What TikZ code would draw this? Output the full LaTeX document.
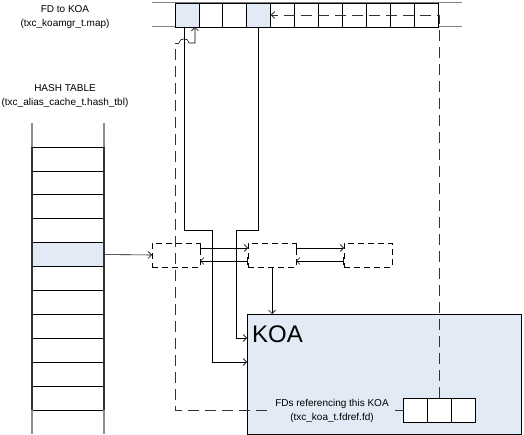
\documentclass[tikz,border=0pt]{standalone}
\usepackage{fontspec}
\setmainfont{Liberation Sans}
\usetikzlibrary{arrows.meta,calc}
\definecolor{hl}{RGB}{226,234,246}
\begin{document}
\begin{tikzpicture}[x=1pt,y=-1pt,
  cell/.style={draw=black,line width=0.7pt,minimum width=23.9pt,minimum height=24pt,inner sep=0pt,outer sep=0pt},
  hrow/.style={draw=black,line width=0.7pt,minimum width=72pt,minimum height=23.9pt,inner sep=0pt,outer sep=0pt},
  dbox/.style={draw=black,dash pattern=on 6pt off 4pt,line width=0.7pt,minimum width=48pt,minimum height=24pt,inner sep=0pt,outer sep=0pt},
  link/.style={draw=black,line width=0.6pt},
  arr/.style={-{Straight Barb[length=3.5pt,width=7pt]}},
  barr/.style={{Bar[width=8pt]}-{Straight Barb[length=3.5pt,width=7pt]}},
  ldash/.style={draw=black!80,line width=0.9pt,dash pattern=on 11pt off 6pt},
  lbl/.style={font=\fontsize{10}{14}\selectfont,align=center,inner sep=0pt},
]
\useasboundingbox (0,0) rectangle (524,435);

% titles
\node[lbl] (t1) at (65,17) {FD to KOA\\(txc\_koamgr\_t.map)};
\node[lbl] (t2) at (65,96) {HASH TABLE\\(txc\_alias\_cache\_t.hash\_tbl)};

% KOA box
\node[draw=black,fill=hl,line width=0.7pt,minimum width=274pt,minimum height=120pt,inner sep=0pt,outer sep=0pt] (koa) at (384,374) {};
\node[anchor=base west,font=\fontsize{24}{28}\selectfont,inner sep=0pt] (koat) at (252,342) {KOA};

% fdref cells
\foreach \i in {1,2,3} {
  \node[cell,fill=white] (f\i) at ({403+24*(\i-0.5)},410) {};
}

% top array
\draw[black!50,line width=1pt] (152,3) -- (462,3) (152,27) -- (462,27);
\foreach \i/\f in {1/hl,2/white,3/white,4/hl,5/white,6/white,7/white,8/white,9/white,10/white,11/white} {
  \node[cell,fill=\f] (c\i) at ({175+23.9*(\i-0.5)},15) {};
}

% hash table
\foreach \i in {1,...,11} {
  \ifnum\i=5
    \node[hrow,fill=hl] (r\i) at (68,{147+23.9*(\i-0.5)}) {};
  \else
    \node[hrow] (r\i) at (68,{147+23.9*(\i-0.5)}) {};
  \fi
}
\draw[black!45,line width=1.2pt] (32,123) -- (32,147) (104,123) -- (104,147)
  (32,410) -- (32,434) (104,410) -- (104,434);
\draw[black!80,line width=1.2pt] (r1.north west) -- (r11.south west) (r1.north east) -- (r11.south east);

% dashed boxes
\node[dbox] (b1) at (176,255) {};
\node[dbox] (b2) at (272,255) {};
\node[dbox] (b3) at (368,255) {};

% connectors
\draw[link,arr] (r5.east) -- (b1.west);
\draw[link,barr] ([yshift=7pt]b1.east) -- ([yshift=7pt]b2.west);
\draw[link,barr] ([yshift=-6pt]b2.west) -- ([yshift=-6pt]b1.east);
\draw[link,barr] ([yshift=7pt]b2.east) -- ([yshift=7pt]b3.west);
\draw[link,barr] ([yshift=-6pt]b3.west) -- ([yshift=-6pt]b2.east);
\draw[link,arr] (b2.south) -- (b2.south |- koa.north);

\draw[link,arr] ([xshift=-3pt]c1.south) |- (212,230) -- (212,362) -- (koa.west |- 212,362);
\draw[link,arr] (c4.south) |- (236,230) -- (236,338) -- (koa.west |- 236,338);

\coordinate (hop) at (179,43);
\draw[ldash] (f1.west) -- (175,410) -- (175,43) -- (hop);
\draw[link,arr] (hop) .. controls (179,37.5) and (189,37.5) .. (189,43)
  -- ([xshift=8pt]c1.south |- 0,43) -- ([xshift=8pt]c1.south);
\draw[ldash,arr] (f2.north) -- (f2.north |- c4.east) -- (c4.east);

% label on the fdref line
\node[lbl,fill=hl,inner xsep=6pt,inner ysep=1pt] (fdl) at (332,411) {FDs referencing this KOA\\(txc\_koa\_t.fdref.fd)};
\end{tikzpicture}
\end{document}
